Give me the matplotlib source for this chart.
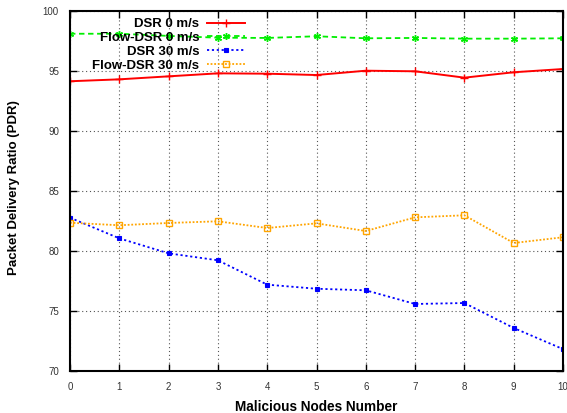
import matplotlib
matplotlib.use("Agg")
import matplotlib.pyplot as plt

# data
nodes = [0, 1, 2, 3, 4, 5, 6, 7, 8, 9, 10]
dsr_0 = [94.12, 94.28, 94.53, 94.78, 94.75, 94.64, 95.0, 94.95, 94.42, 94.87, 95.14]
flow_dsr_0 = [98.08, 98.08, 97.9, 97.75, 97.73, 97.87, 97.7, 97.73, 97.67, 97.67, 97.7]
dsr_30 = [82.75, 81.03, 79.78, 79.2, 77.17, 76.83, 76.7, 75.56, 75.64, 73.56, 71.8]
flow_dsr_30 = [82.33, 82.12, 82.31, 82.45, 81.89, 82.28, 81.64, 82.78, 82.95, 80.64, 81.12]
labels = ["DSR 0 m/s", "Flow-DSR 0 m/s", "DSR 30 m/s", "Flow-DSR 30 m/s"]
yticks = [70, 75, 80, 85, 90, 95, 100]

plt.rcParams['font.family'] = ['Liberation Sans', 'DejaVu Sans']

fig = plt.figure(figsize=(5.67, 4.13), dpi=100)
ax = fig.add_axes([70 / 567, 1 - 370.7 / 413, 493 / 567, 360 / 413])

ax.plot(nodes, dsr_0, color='#ff0000', lw=1.4, marker='+', ms=6, mew=1.0,
        label=labels[0])
ax.plot(nodes, flow_dsr_0, color='#00ee00', lw=1.3, ls=(0, (3, 2)),
        marker=(6, 2, 0), ms=5, mew=1.0, label=labels[1])
ax.plot(nodes, dsr_30, color='#0000ff', lw=1.3, ls=(0, (1.2, 1.5)),
        marker='s', ms=3.5, mew=0.8, label=labels[2])
ax.plot(nodes, flow_dsr_30, color='#ffa500', lw=1.3, ls=(0, (1, 1)),
        marker='s', ms=4.5, mfc='none', mew=1.0, label=labels[3])

ax.set_xlim(0, 10)
ax.set_ylim(70, 100)
ax.set_xticks(nodes)
ax.set_yticks(yticks)
ax.grid(True, color='#555555', ls=(0, (1, 2.5)), lw=0.8)
ax.tick_params(direction='in', top=True, right=True, length=5, width=1,
               labelsize=7, labelcolor='#333333', pad=8)
for s in ax.spines.values():
    s.set_linewidth(1.5)

ax.set_xlabel("Malicious Nodes Number", fontsize=9.8, fontweight='bold', labelpad=6)
ax.set_ylabel("Packet Delivery Ratio (PDR)", fontsize=9.5, fontweight='bold')
ax.yaxis.set_label_coords(-0.102, 0.51)

leg = ax.legend(loc='upper right', bbox_to_anchor=(0.355, 0.98), frameon=False,
                markerfirst=False, prop={'weight': 'bold', 'size': 9.5},
                handlelength=2.85, handletextpad=0.6, labelspacing=0.12,
                borderpad=0, borderaxespad=0)

fig.savefig("out.png", dpi=100)
